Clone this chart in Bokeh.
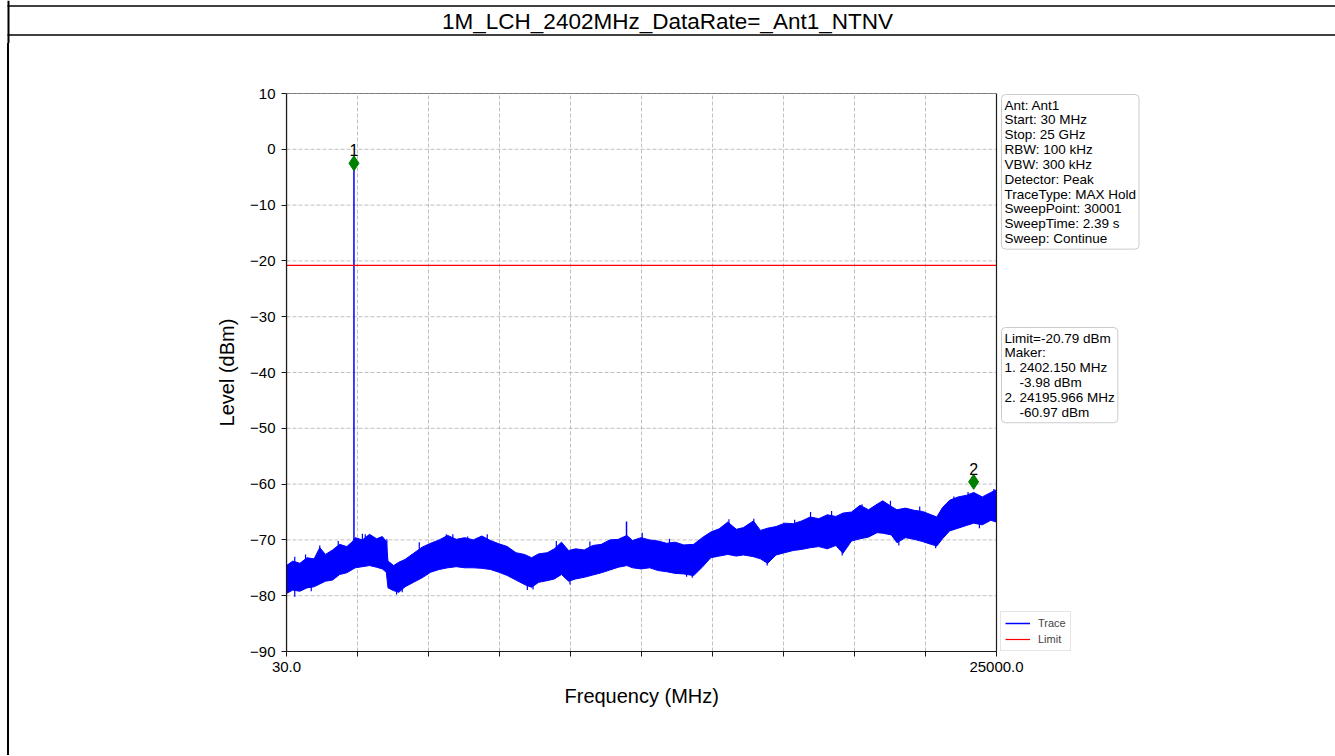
from bokeh.plotting import figure
from bokeh.models import (Range1d, FixedTicker, Label, Legend, LegendItem, BoxAnnotation,
                          Spacer, Title)
from bokeh.layouts import column, row
from bokeh.embed import file_html
from bokeh.resources import INLINE
from bokeh.core.properties import value

FONT = "Liberation Sans"

# ---------------- data ----------------
title_text = "1M_LCH_2402MHz_DataRate=_Ant1_NTNV"
x_label = "Frequency (MHz)"
y_label = "Level (dBm)"
x_start = 30.0
x_stop = 25000.0
x_major_ticks = [30.0, 25000.0]
x_major_labels = ["30.0", "25000.0"]
x_minor_ticks = [2527.0, 5024.0, 7521.0, 10018.0, 12515.0, 15012.0, 17509.0, 20006.0, 22503.0]
y_ticks = [-90, -80, -70, -60, -50, -40, -30, -20, -10, 0, 10]
y_tick_labels = ["\u221290", "\u221280", "\u221270", "\u221260", "\u221250", "\u221240",
                 "\u221230", "\u221220", "\u221210", "0", "10"]

limit_db = -20.79

trace_freq = [30, 250, 500, 750, 1000, 1200, 1400, 1650, 1900, 2150, 2350, 2450, 2700, 2950,
              3200, 3400, 3540, 3600, 3800, 3980, 4200, 4500, 4800, 5100, 5400, 5700, 6000,
              6300, 6600, 6900, 7200, 7500, 7800, 8100, 8400, 8650, 8900, 9200, 9450, 9700,
              9950, 10200, 10500, 10800, 11100, 11400, 11700, 12000, 12200, 12500, 12800,
              13100, 13400, 13700, 14000, 14350, 14650, 14950, 15250, 15550, 15850, 16100,
              16450, 16700, 16950, 17250, 17550, 17850, 18150, 18450, 18750, 19050, 19350,
              19600, 19900, 20200, 20500, 20800, 21000, 21300, 21500, 21800, 22100, 22400,
              22700, 22900, 23100, 23350, 23650, 23950, 24200, 24500, 24800, 25000]
trace_upper = [-74.6, -73.8, -74.2, -73.2, -73.4, -71.4, -72.6, -71.8, -70.8, -71.2, -70.3,
               -69.6, -70.0, -69.0, -69.8, -69.4, -70.3, -73.8, -74.6, -74.0, -73.5, -72.4,
               -71.3, -70.6, -70.0, -69.2, -69.9, -69.6, -70.0, -69.3, -70.1, -70.7, -71.2,
               -72.3, -72.6, -73.2, -72.5, -72.3, -71.6, -70.4, -71.9, -71.6, -71.8, -71.0,
               -70.8, -70.0, -69.9, -69.2, -70.1, -69.6, -70.0, -70.2, -70.6, -70.4, -70.9,
               -70.8, -69.6, -68.6, -68.0, -66.8, -68.1, -67.8, -66.6, -68.3, -67.9, -67.6,
               -67.0, -67.1, -66.6, -65.9, -66.2, -65.5, -65.8, -65.2, -65.0, -63.8, -64.6,
               -63.6, -63.0, -64.0, -64.6, -64.3, -64.7, -64.9, -65.5, -65.9, -64.2, -62.9,
               -62.3, -62.0, -61.5, -62.3, -61.5, -61.0]
trace_lower = [-79.6, -79.0, -79.2, -78.6, -78.4, -77.9, -77.4, -77.2, -76.2, -75.9, -75.3,
               -75.0, -74.8, -74.6, -74.9, -75.2, -75.8, -78.6, -79.1, -79.4, -78.4, -77.6,
               -76.8, -75.8, -75.3, -75.0, -74.8, -75.0, -75.0, -75.1, -75.3, -75.8, -76.4,
               -77.2, -78.0, -78.5, -77.6, -77.3, -77.0, -76.2, -77.4, -77.0, -76.7, -76.3,
               -75.9, -75.4, -74.9, -74.6, -75.0, -75.2, -75.0, -75.5, -75.7, -76.0, -76.1,
               -76.4, -74.9, -73.2, -72.9, -72.6, -72.9, -72.7, -73.0, -73.4, -74.2, -72.7,
               -72.3, -71.9, -71.7, -71.4, -71.2, -71.6, -71.0, -72.4, -70.2, -69.8, -69.5,
               -68.7, -68.8, -69.1, -70.5, -69.6, -69.9, -70.3, -70.8, -71.1, -69.8, -68.4,
               -67.9, -67.4, -67.0, -67.3, -66.5, -66.8]

# thin noise peaks visible above / below the trace band
hair_up_freq = [320, 700, 1200, 1850, 2700, 2800, 3050, 3330, 3560, 4700, 5650, 5880, 6400,
                7090, 9520, 10700, 12540, 13500, 15590, 16465, 17900, 18460, 19200, 20270,
                21270, 22300, 23500, 24000, 24907]
hair_up_top = [-73.0, -72.6, -71.0, -70.2, -68.9, -69.0, -69.4, -69.5, -69.9, -70.4, -69.0,
               -69.0, -69.4, -69.0, -70.2, -70.3, -68.7, -69.8, -66.3, -66.2, -66.4, -65.0,
               -64.8, -63.6, -63.0, -64.0, -62.2, -61.4, -60.9]
hair_up_base = [-77.0, -76.5, -75.5, -74.0, -72.5, -72.5, -72.5, -72.5, -73.0, -74.0, -72.5,
                -72.5, -72.5, -72.5, -74.0, -74.0, -72.5, -73.0, -70.5, -70.5, -70.0, -69.0,
                -68.5, -67.0, -67.0, -67.5, -66.0, -65.0, -64.0]
hair_dn_freq = [320, 900, 3900, 4100, 8500, 8700, 10000, 14100, 14300, 16935, 19573, 21565,
                22860, 24400]
hair_dn_bottom = [-80.2, -79.2, -79.8, -79.4, -79.0, -78.9, -78.0, -76.6, -76.8, -74.6, -72.8,
                  -71.0, -71.5, -67.9]
hair_dn_base = [-77.0, -76.0, -76.5, -76.0, -75.5, -75.5, -74.5, -73.5, -73.5, -71.0, -69.0,
                -67.5, -68.0, -64.5]

spike_freq = [2402.15, 11988.0]
spike_top = [-2.5, -66.7]
spike_base = [-70.5, -70.0]

marker_freq = [2402.150, 24195.966]
marker_level = [-2.5, -59.6]
marker_names = ["1", "2"]

info_lines = ["Ant: Ant1", "Start: 30 MHz", "Stop: 25 GHz", "RBW: 100 kHz", "VBW: 300 kHz",
              "Detector: Peak", "TraceType: MAX Hold", "SweepPoint: 30001",
              "SweepTime: 2.39 s", "Sweep: Continue"]
NB = "\u00a0"
maker_lines = ["Limit=-20.79 dBm", "Maker:", "1. 2402.150 MHz", NB * 4 + "-3.98 dBm",
               "2. 24195.966 MHz", NB * 4 + "-60.97 dBm"]
legend_labels = ["Trace", "Limit"]

# ---------------- layout constants (pixels) ----------------
PAGE_W = 1335
PAGE_H = 755
HEAD_H = 43
MAIN_H = PAGE_H - HEAD_H
LEFT_GAP = 7
STRIP_W = 2
INNER_X0 = LEFT_GAP + STRIP_W
MAIN_W = PAGE_W - INNER_X0
FRAME_LEFT = 286          # page x of plot box left
PLOT_RIGHT = 996          # page x of plot box right
FRAME_TOP = 93            # page y of plot box top
FRAME_BOTTOM = 651        # page y of plot box bottom
PLOT_W = PLOT_RIGHT - FRAME_LEFT
FRAME_W = PAGE_W - FRAME_LEFT
FRAME_H = FRAME_BOTTOM - FRAME_TOP
x_view_end = x_start + (x_stop - x_start) * FRAME_W / PLOT_W

# ---------------- header (table rules with the caption) ----------------
head = figure(width=PAGE_W, height=HEAD_H, x_range=Range1d(0, PAGE_W),
              y_range=Range1d(HEAD_H, 0), x_axis_type=None, y_axis_type=None,
              toolbar_location=None, output_backend="svg", min_border=0, outline_line_color=None)
head.grid.visible = False
rule_y = [5.5, 34.5]
head.segment(x0=[7, 7], y0=rule_y, x1=[PAGE_W, PAGE_W], y1=rule_y,
             line_color="black", line_width=1.7)
head.segment(x0=[8], y0=[0], x1=[8], y1=[HEAD_H], line_color="black", line_width=2)
head.add_layout(Label(x=667, y=20.5, text=title_text, text_align="center", text_baseline="middle",
                      text_font=FONT, text_font_size="22.5px", text_color="black"))

# ---------------- main chart ----------------
p = figure(width=MAIN_W, height=MAIN_H,
           x_range=Range1d(x_start, x_view_end), y_range=Range1d(y_ticks[0], y_ticks[-1]),
           toolbar_location=None, output_backend="svg",
           min_border_left=FRAME_LEFT - INNER_X0, min_border_right=0,
           min_border_top=FRAME_TOP - HEAD_H,
           min_border_bottom=MAIN_H - (FRAME_BOTTOM - HEAD_H))
p.outline_line_color = None
p.grid.visible = False

p.xaxis.ticker = FixedTicker(ticks=x_major_ticks, minor_ticks=x_minor_ticks)
p.xaxis.major_label_overrides = {t: l for t, l in zip(x_major_ticks, x_major_labels)}
p.xaxis.bounds = (x_start, x_stop)
p.yaxis.ticker = FixedTicker(ticks=y_ticks)
p.yaxis.major_label_overrides = {t: l for t, l in zip(y_ticks, y_tick_labels)}

for ax in (p.xaxis[0], p.yaxis[0]):
    ax.axis_line_color = "#1a1a1a"
    ax.axis_line_width = 1.2
    ax.major_tick_line_color = "#1a1a1a"
    ax.major_tick_out = 5
    ax.major_tick_in = 0
    ax.major_label_text_font = FONT
    ax.major_label_text_font_size = "15px"
    ax.major_label_text_color = "black"
    ax.axis_label_text_font = FONT
    ax.axis_label_text_font_size = "20px"
    ax.axis_label_text_font_style = "normal"
    ax.axis_label_text_color = "black"
p.xaxis.minor_tick_line_color = "#1a1a1a"
p.xaxis.minor_tick_out = 5
p.xaxis.minor_tick_in = 0
p.yaxis.minor_tick_line_color = None
p.xaxis.major_label_standoff = 5
p.yaxis.major_label_standoff = 6
p.yaxis.axis_label = y_label
p.yaxis.axis_label_standoff = 9

# x-axis caption centred under the plot box (not under the whole frame)
XLAB_SIZE = 20
xlab_w = 154
p.add_layout(Title(text=x_label, align="left", offset=(PLOT_W - xlab_w) / 2,
                   text_font=FONT, text_font_size=f"{XLAB_SIZE}px", text_font_style="normal",
                   text_color="black", standoff=17), "below")

# dashed grid limited to the plot box
grid_style = dict(line_color="#b0b0b0", line_dash="4 2", line_width=0.8)
p.segment(x0=[x_start] * len(y_ticks), y0=y_ticks, x1=[x_stop] * len(y_ticks), y1=y_ticks,
          **grid_style)
p.segment(x0=x_minor_ticks, y0=[y_ticks[0]] * len(x_minor_ticks), x1=x_minor_ticks,
          y1=[y_ticks[-1]] * len(x_minor_ticks), **grid_style)

BLUE = "#0000ff"
p.varea(x=trace_freq, y1=trace_lower, y2=trace_upper, fill_color=BLUE)
p.line(x=trace_freq, y=trace_upper, line_color=BLUE, line_width=1)
p.line(x=trace_freq, y=trace_lower, line_color=BLUE, line_width=1)
p.segment(x0=hair_up_freq, y0=hair_up_base, x1=hair_up_freq, y1=hair_up_top,
          line_color=BLUE, line_width=1.2)
p.segment(x0=hair_dn_freq, y0=hair_dn_base, x1=hair_dn_freq, y1=hair_dn_bottom,
          line_color=BLUE, line_width=1.2)
spike_r = p.segment(x0=spike_freq, y0=spike_base, x1=spike_freq, y1=spike_top,
                    line_color=BLUE, line_width=1.5)
limit_r = p.line(x=[x_start, x_stop], y=[limit_db, limit_db], line_color="#ff0000", line_width=1.2)

p.scatter(x=marker_freq, y=marker_level, marker="diamond", size=15,
          fill_color="#008000", line_color="#008000")
p.text(x=marker_freq, y=marker_level, text=marker_names, text_align="center",
       text_baseline="bottom", y_offset=-7, text_font=value(FONT), text_font_size="16px",
       text_color="black")

# plot box
p.add_layout(BoxAnnotation(left=x_start, right=x_stop, bottom=y_ticks[0], top=y_ticks[-1],
                           fill_alpha=0, line_color="#1a1a1a", line_alpha=1, line_width=1.2))

box_style = dict(x_units="screen", y_units="screen", text_align="left", text_baseline="top",
                 text_font=FONT, text_font_size="13.5px", text_color="black",
                 text_line_height=0.99, padding=3, border_line_color="#cccccc",
                 border_line_width=1, border_radius=4, background_fill_color="white")
p.add_layout(Label(x=1001 - FRAME_LEFT, y=FRAME_H - 1, text="\n".join(info_lines), **box_style))
p.add_layout(Label(x=1001 - FRAME_LEFT, y=FRAME_BOTTOM - 327, text="\n".join(maker_lines),
                   **box_style))

legend = Legend(items=[LegendItem(label=legend_labels[0], renderers=[spike_r]),
                       LegendItem(label=legend_labels[1], renderers=[limit_r])],
                location=(1000 - FRAME_LEFT, 0), label_text_font=FONT,
                label_text_font_size="11px", glyph_width=25, glyph_height=14, label_height=14,
                label_standoff=8, spacing=2, padding=4, margin=0, border_line_color="#cccccc",
                border_line_width=1, background_fill_color="white")
p.add_layout(legend)

layout = column(head,
                row(Spacer(width=LEFT_GAP, height=MAIN_H),
                    Spacer(width=STRIP_W, height=MAIN_H, styles={"background-color": "black"}),
                    p))

open("out.html", "w").write(file_html(layout, INLINE))
